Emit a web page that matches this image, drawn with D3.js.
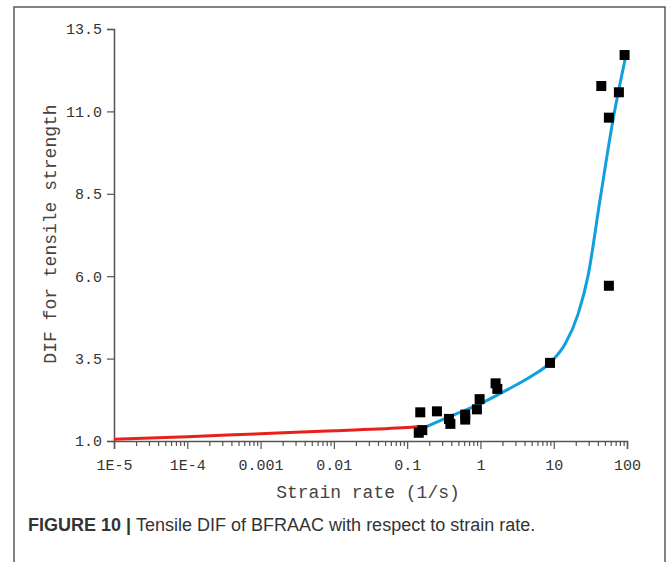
<!DOCTYPE html>
<html>
<head>
<meta charset="utf-8">
<style>
  body { margin: 0; background: #fff; }
  svg { display: block; }
</style>
</head>
<body>
<svg width="672" height="562"></svg>
<script src="https://cdn.jsdelivr.net/npm/d3@7/dist/d3.min.js"></script>
<script>
  // measured points (strain rate, DIF)
  var pointRate = [0.144, 0.151, 0.161, 0.255, 0.372, 0.389, 0.62, 0.62, 0.895, 0.975, 1.61, 1.70, 8.9, 44.6, 56.6, 56.6, 77.5, 92.7];
  var pointDIF  = [1.25, 1.87, 1.33, 1.90, 1.67, 1.52, 1.80, 1.65, 1.96, 2.27, 2.75, 2.58, 3.37, 11.77, 10.81, 5.71, 11.58, 12.71];

  // red fit (low rates)
  var redRate = [1e-5, 1e-4, 1e-3, 1e-2, 0.1, 0.16];
  var redDIF  = [1.05, 1.13, 1.22, 1.31, 1.41, 1.44];

  // blue fit (high rates)
  var blueRate = [0.165, 0.35, 1.02, 2.3, 4.75, 9.2, 14.3, 21.5, 29.4, 42.8, 64.4, 97];
  var blueDIF  = [1.39, 1.71, 2.14, 2.55, 2.94, 3.40, 3.94, 4.85, 6.01, 8.31, 10.74, 12.71];

  var xTicks = [1e-5, 1e-4, 1e-3, 1e-2, 0.1, 1, 10, 100];
  var xTickLabels = ["1E-5", "1E-4", "0.001", "0.01", "0.1", "1", "10", "100"];
  var yTicks = [1.0, 3.5, 6.0, 8.5, 11.0, 13.5];

  var svg = d3.select("svg");
  var mono = "'Liberation Mono', 'DejaVu Sans Mono', monospace";

  // figure frame
  svg.append("rect")
      .attr("x", 14).attr("y", 7)
      .attr("width", 651).attr("height", 600)
      .attr("fill", "none")
      .attr("stroke", "#5a5a5a")
      .attr("stroke-width", 1.5);

  var x = d3.scaleLog().domain([1e-5, 100]).range([114, 627]);
  var y = d3.scaleLinear().domain([1, 13.5]).range([441, 29]);

  // minor ticks for the log axis
  var minor = [];
  for (var e = -5; e < 2; e++) {
    for (var m = 2; m <= 9; m++) minor.push(m * Math.pow(10, e));
  }

  var gx = svg.append("g").attr("transform", "translate(0,441)");
  gx.call(d3.axisBottom(x).tickValues(minor).tickSize(5).tickFormat(""));
  gx.call(function(g) {
    g.selectAll(".domain").remove();
  });
  var gx2 = svg.append("g").attr("transform", "translate(0,441)");
  gx2.call(d3.axisBottom(x).tickValues(xTicks).tickSize(8).tickPadding(10)
      .tickFormat(function(d, i) { return xTickLabels[i]; }));

  var gy = svg.append("g").attr("transform", "translate(114,0)");
  gy.call(d3.axisLeft(y).tickValues(yTicks).tickSize(7).tickPadding(5).tickFormat(d3.format(".1f")));

  svg.selectAll(".domain").attr("stroke", "#555").attr("stroke-width", 1.5);
  svg.selectAll(".tick line").attr("stroke", "#555").attr("stroke-width", 1.2);
  svg.selectAll(".tick text")
      .attr("font-family", mono)
      .attr("font-size", 15)
      .attr("fill", "#333");

  // axis titles
  svg.append("text")
      .attr("x", 368).attr("y", 498)
      .attr("text-anchor", "middle")
      .attr("font-family", mono)
      .attr("font-size", 18)
      .attr("fill", "#444")
      .text("Strain rate (1/s)");

  svg.append("text")
      .attr("transform", "translate(56,234) rotate(-90)")
      .attr("text-anchor", "middle")
      .attr("font-family", mono)
      .attr("font-size", 18)
      .attr("fill", "#444")
      .text("DIF for tensile strength");

  var line = d3.line()
      .x(function(d) { return x(d[0]); })
      .y(function(d) { return y(d[1]); })
      .curve(d3.curveMonotoneX);

  svg.append("path")
      .datum(d3.zip(redRate, redDIF))
      .attr("fill", "none")
      .attr("stroke", "#e8211c")
      .attr("stroke-width", 3)
      .attr("d", line);

  svg.append("path")
      .datum(d3.zip(blueRate, blueDIF))
      .attr("fill", "none")
      .attr("stroke", "#119fe0")
      .attr("stroke-width", 3)
      .attr("d", line);

  svg.selectAll(".pt")
      .data(d3.zip(pointRate, pointDIF))
      .enter().append("rect")
      .attr("class", "pt")
      .attr("x", function(d) { return x(d[0]) - 5; })
      .attr("y", function(d) { return y(d[1]) - 5; })
      .attr("width", 10).attr("height", 10)
      .attr("fill", "#000");

  // caption
  var cap = svg.append("text")
      .attr("x", 28).attr("y", 531)
      .attr("font-family", "'Liberation Sans', Arial, sans-serif")
      .attr("font-size", 18)
      .attr("fill", "#333");
  cap.append("tspan").attr("font-weight", "bold").text("FIGURE 10 | ");
  cap.append("tspan").text("Tensile DIF of BFRAAC with respect to strain rate.");
</script>
</body>
</html>
